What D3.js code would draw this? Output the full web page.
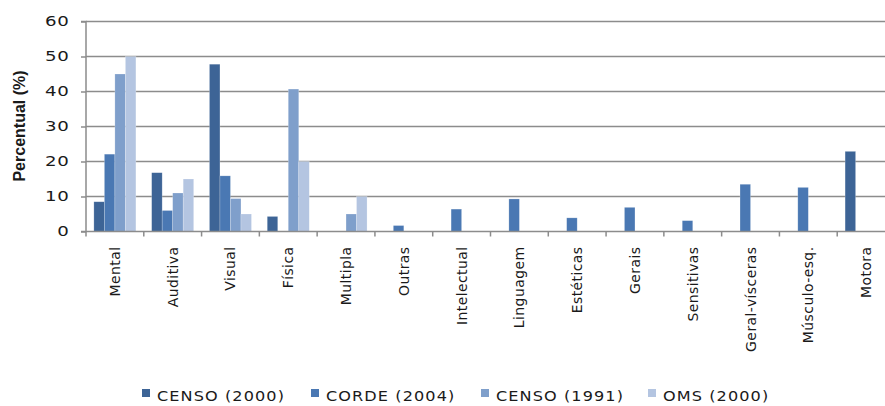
<!DOCTYPE html>
<html>
<head>
<meta charset="utf-8">
<script src="https://cdn.jsdelivr.net/npm/d3@7"></script>
<style>
body { margin: 0; background: #fff; }
svg { display: block; }
</style>
</head>
<body>
<div id="chart"></div>
<script>
// categories and series
var categories = ["Mental", "Auditiva", "Visual", "Física", "Multipla", "Outras", "Intelectual",
    "Linguagem", "Estéticas", "Gerais", "Sensitivas", "Geral-vísceras", "Músculo-esq.", "Motora"];
var seriesNames = ["CENSO (2000)", "CORDE (2004)", "CENSO (1991)", "OMS (2000)"];
var censo2000 = [8.5, 16.8, 47.8, 4.3, null, null, null, null, null, null, null, null, null, 22.9];
var corde2004 = [22.1, 6.0, 15.9, null, null, 1.7, 6.4, 9.3, 3.9, 6.9, 3.1, 13.5, 12.6, null];
var censo1991 = [45.0, 11.0, 9.4, 40.7, 5.0, null, null, null, null, null, null, null, null, null];
var oms2000 = [50.0, 15.0, 5.0, 20.0, 10.0, null, null, null, null, null, null, null, null, null];
var yTicks = [0, 10, 20, 30, 40, 50, 60];
var colors = ["#3d6496", "#4a78b3", "#7f9fcb", "#b4c5e1"];

var series = [censo2000, corde2004, censo1991, oms2000];

var width = 885, height = 406;
var plotLeft = 86, plotRight = 895, plotTop = 21.5, plotBottom = 231.5;
var stretch = 1.15; // the reference text is drawn a bit wide

var svg = d3.select("#chart").append("svg")
    .attr("width", width)
    .attr("height", height);

var x = d3.scaleBand().domain(categories).range([plotLeft, plotRight]).paddingInner(0).paddingOuter(0);
var inner = d3.scaleBand().domain(d3.range(series.length))
    .range([0, x.bandwidth()]).paddingOuter(0.75).paddingInner(0);
var y = d3.scaleLinear().domain([0, 60]).range([plotBottom, plotTop]);

// gridlines
svg.append("g").selectAll("line")
    .data(yTicks.filter(function (d) { return d > 0; }))
    .enter().append("line")
    .attr("x1", plotLeft).attr("x2", width)
    .attr("y1", function (d) { return y(d); })
    .attr("y2", function (d) { return y(d); })
    .attr("stroke", "#8c8c8c")
    .attr("stroke-width", 1.5);

// bars
var rows = [];
series.forEach(function (s, si) {
    s.forEach(function (v, ci) {
        if (v != null) rows.push({ s: si, c: categories[ci], v: v });
    });
});
svg.append("g").selectAll("rect")
    .data(rows)
    .enter().append("rect")
    .attr("x", function (d) { return x(d.c) + inner(d.s); })
    .attr("width", inner.bandwidth())
    .attr("y", function (d) { return y(d.v); })
    .attr("height", function (d) { return y(0) - y(d.v); })
    .attr("fill", function (d) { return colors[d.s]; })
    .attr("stroke", "#ffffff")
    .attr("stroke-opacity", 0.35)
    .attr("stroke-width", 0.6);

// y axis
var yAxis = svg.append("g")
    .attr("transform", "translate(" + plotLeft + ",0)")
    .call(d3.axisLeft(y).tickValues(yTicks).tickSize(5).tickPadding(6));
yAxis.select(".domain").attr("stroke", "#8c8c8c").attr("stroke-width", 1.5)
    .attr("d", "M-5," + plotTop + "H0V" + plotBottom + "H-5");
yAxis.selectAll(".tick line").attr("stroke", "#8c8c8c").attr("stroke-width", 1.5);
yAxis.selectAll("text")
    .attr("x", 0)
    .attr("transform", "translate(-16.5,0) scale(1.3,1)")
    .attr("font-family", "DejaVu Sans, Verdana, sans-serif")
    .attr("font-size", "14px")
    .attr("letter-spacing", "0.5px")
    .attr("fill", "#1a1a1a");

// x axis
var xAxis = svg.append("g")
    .attr("transform", "translate(0," + plotBottom + ")");
xAxis.append("line")
    .attr("x1", plotLeft).attr("x2", width)
    .attr("stroke", "#8c8c8c").attr("stroke-width", 1.5);
xAxis.selectAll(".xt")
    .data(d3.range(categories.length + 1))
    .enter().append("line")
    .attr("class", "xt")
    .attr("x1", function (i) { return plotLeft + i * x.step(); })
    .attr("x2", function (i) { return plotLeft + i * x.step(); })
    .attr("y1", 0).attr("y2", 5)
    .attr("stroke", "#8c8c8c").attr("stroke-width", 1.5);
xAxis.selectAll(".xl")
    .data(categories)
    .enter().append("text")
    .attr("class", "xl")
    .attr("transform", function (d) {
        return "translate(" + (x(d) + x.bandwidth() / 2 + 5) + ",15) rotate(-90)";
    })
    .attr("text-anchor", "end")
    .attr("font-family", "DejaVu Sans, Verdana, sans-serif")
    .attr("font-size", "14px")
    .attr("letter-spacing", "0.4px")
    .attr("fill", "#1a1a1a")
    .text(function (d) { return d; });

// y title
svg.append("text")
    .attr("transform", "translate(25,126) rotate(-90)")
    .attr("text-anchor", "middle")
    .attr("font-family", "Liberation Sans, Arial, sans-serif")
    .attr("font-weight", "bold")
    .attr("font-size", "16px")
    .attr("fill", "#1a1a1a")
    .text("Percentual (%)");

// legend
var legendX = [142, 311, 481, 648];
var legend = svg.append("g").selectAll("g")
    .data(seriesNames)
    .enter().append("g")
    .attr("transform", function (d, i) { return "translate(" + legendX[i] + ",389)"; });
legend.append("rect")
    .attr("width", 8).attr("height", 8)
    .attr("fill", function (d, i) { return colors[i]; });
legend.append("text")
    .attr("transform", "translate(15,12) scale(" + stretch + ",1)")
    .attr("font-family", "DejaVu Sans, Verdana, sans-serif")
    .attr("font-size", "14px")
    .attr("letter-spacing", "0.95px")
    .attr("fill", "#1a1a1a")
    .text(function (d) { return d; });
</script>
</body>
</html>
